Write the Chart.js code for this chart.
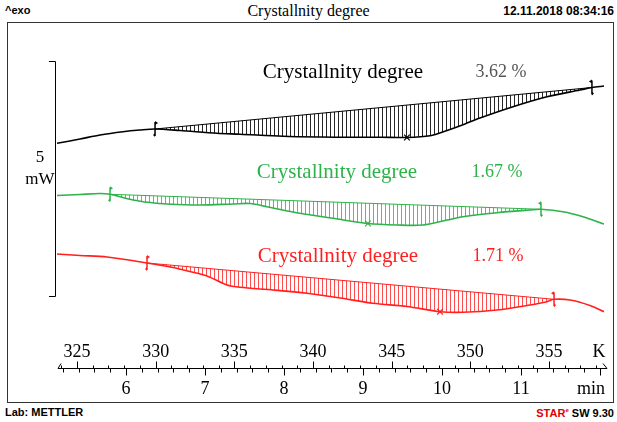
<!DOCTYPE html>
<html>
<head>
<meta charset="utf-8">
<title>Crystallnity degree</title>
<script src="https://cdn.jsdelivr.net/npm/chart.js@4.4.1/dist/chart.umd.min.js"></script>
<style>
body { margin: 0; background: #fff; }
#wrap { position: relative; width: 617px; height: 422px; overflow: hidden; }
#frame { position: absolute; left: 7px; top: 22px; width: 605px; height: 379px; border: 1px solid #333; }
canvas { position: absolute; left: 0; top: 0; }
.t { position: absolute; white-space: nowrap; line-height: 1; }
.sans { font-family: "Liberation Sans", Arial, sans-serif; font-weight: bold; font-size: 11px; }
.serif { font-family: "Liberation Serif", "Times New Roman", serif; font-size: 16px; }
</style>
</head>
<body>
<div id="wrap">
  <div id="frame"></div>
  <div class="t sans" style="left:5px; top:5px;">^exo</div>
  <div class="t serif" style="left:0; width:617px; text-align:center; top:3px;">Crystallnity degree</div>
  <div class="t sans" style="right:3px; top:5px; font-size:12px;">12.11.2018 08:34:16</div>
  <div class="t sans" style="left:5px; top:407px;">Lab: METTLER</div>
  <div class="t sans" style="right:3px; top:407px;"><span style="color:#e00000">STAR</span><sup style="font-size:6px; color:#e00000">e</sup> SW 9.30</div>
  <canvas id="chart" width="617" height="422"></canvas>
</div>
<script>
// curves: temperature (K) and heat flow (mW, offset per curve)
const blackT = [323.73, 325.19, 326.46, 327.92, 329.00, 329.96, 331.55, 333.90, 335.36, 338.09, 340.45, 342.35, 344.26, 345.97, 347.44, 348.52, 349.66, 350.61, 352.71, 354.87, 356.97, 357.73, 358.50];
const blackMW = [3.249, 3.340, 3.426, 3.496, 3.532, 3.553, 3.521, 3.462, 3.443, 3.400, 3.383, 3.377, 3.379, 3.372, 3.409, 3.521, 3.660, 3.787, 4.028, 4.240, 4.383, 4.436, 4.468];

const greenT = [323.73, 325.19, 326.46, 327.10, 328.56, 329.64, 330.72, 332.82, 334.92, 336.00, 337.08, 339.17, 341.27, 343.49, 345.34, 346.99, 348.52, 349.53, 351.70, 353.79, 354.49, 355.89, 357.16, 358.50];
const greenMW = [2.138, 2.160, 2.181, 2.164, 2.043, 1.989, 1.957, 1.936, 1.957, 1.968, 1.900, 1.760, 1.653, 1.543, 1.511, 1.511, 1.617, 1.687, 1.772, 1.830, 1.845, 1.794, 1.687, 1.532];

const redT = [323.73, 325.19, 326.91, 329.45, 331.10, 332.18, 333.26, 334.53, 335.36, 337.46, 339.62, 341.72, 343.81, 345.97, 348.07, 349.53, 351.70, 353.79, 354.87, 355.32, 356.34, 357.61, 358.50];
const redMW = [0.894, 0.862, 0.830, 0.702, 0.606, 0.521, 0.426, 0.234, 0.185, 0.128, 0.057, -0.043, -0.155, -0.223, -0.334, -0.347, -0.298, -0.191, -0.121, -0.070, -0.085, -0.202, -0.334];

// integration limits (baseline ends) and peak marks
const blackBaseT = [329.96, 357.73];
const blackBaseMW = [3.553, 4.436];
const greenBaseT = [327.10, 354.49];
const greenBaseMW = [2.164, 1.845];
const redBaseT = [329.45, 355.32];
const redBaseMW = [0.702, -0.070];

const peakT = [345.97, 343.49, 348.07];
const peakMW = [3.372, 1.543, -0.334];

const resultNames = ['Crystallnity degree', 'Crystallnity degree', 'Crystallnity degree'];
const resultValues = ['3.62 %', '1.67 %', '1.71 %'];

const kTicks = [325, 330, 335, 340, 345, 350, 355];
const minTicks = [6, 7, 8, 9, 10, 11];

const BLACK = '#000000';
const GREEN = '#2db34a';
const RED = '#ff2020';
const SERIF = '"Liberation Serif", "Times New Roman", serif';

function pts(xs, ys) {
    return xs.map((x, i) => ({ x: x, y: ys[i] }));
}

function curveYAt(points, px) {
    for (let i = 1; i < points.length; i++) {
        if (points[i].x >= px) {
            const a = points[i - 1], b = points[i];
            return a.y + (b.y - a.y) * (px - a.x) / (b.x - a.x);
        }
    }
    return points[points.length - 1].y;
}

function flag(ctx, x, y, dir, color) {
    ctx.save();
    ctx.strokeStyle = color;
    ctx.fillStyle = color;
    ctx.lineWidth = 1.5;
    ctx.beginPath();
    ctx.moveTo(x, y - 7);
    ctx.lineTo(x, y + 7);
    ctx.stroke();
    ctx.beginPath();
    ctx.moveTo(x, y - 8);
    ctx.lineTo(x + 3 * dir, y - 6);
    ctx.lineTo(x, y - 4);
    ctx.fill();
    ctx.beginPath();
    ctx.moveTo(x, y + 8);
    ctx.lineTo(x - 2 * dir, y + 6);
    ctx.lineTo(x, y + 4);
    ctx.fill();
    ctx.restore();
}

const groups = [
    { curve: 0, base: 3, color: BLACK, hatch: 'rgba(0,0,0,0.85)', textY: 72, nameX: 343, valX: 501, valColor: '#555555' },
    { curve: 1, base: 4, color: GREEN, hatch: 'rgba(45,179,74,0.8)', textY: 172, nameX: 337, valX: 497, valColor: GREEN },
    { curve: 2, base: 5, color: RED, hatch: 'rgba(255,32,32,0.8)', textY: 256, nameX: 338, valX: 498, valColor: RED }
];

const decor = {
    id: 'decor',
    beforeDatasetsDraw(c) {
        const ctx = c.ctx;
        ctx.save();
        ctx.lineWidth = 1;
        groups.forEach(g => {
            const curve = c.getDatasetMeta(g.curve).data;
            const base = c.getDatasetMeta(g.base).data;
            const x0 = base[0].x, x1 = base[1].x;
            ctx.strokeStyle = g.hatch;
            ctx.beginPath();
            for (let px = x0 + 3; px < x1 - 1; px += 4) {
                const bx = Math.round(px) + 0.5;
                const yb = base[0].y + (base[1].y - base[0].y) * (bx - x0) / (x1 - x0);
                const yc = curveYAt(curve, bx);
                ctx.moveTo(bx, yb);
                ctx.lineTo(bx, yc);
            }
            ctx.stroke();
        });
        ctx.restore();
    },
    afterDatasetsDraw(c) {
        const ctx = c.ctx;
        const xs = c.scales.x, ys = c.scales.y, ts = c.scales.t;

        // integration limit flags
        groups.forEach(g => {
            const base = c.getDatasetMeta(g.base).data;
            flag(ctx, base[0].x, base[0].y, 1, g.color);
            flag(ctx, base[1].x, base[1].y, -1, g.color);
        });

        ctx.save();
        ctx.textAlign = 'center';
        ctx.textBaseline = 'middle';
        groups.forEach((g, i) => {
            ctx.font = '21px ' + SERIF;
            ctx.fillStyle = g.color;
            ctx.fillText(resultNames[i], g.nameX, g.textY);
            ctx.font = '18px ' + SERIF;
            ctx.fillStyle = g.valColor;
            ctx.fillText(resultValues[i], g.valX, g.textY);
        });

        // 5 mW scale bar
        const barX = 55.5;
        const yTop = Math.round(ys.getPixelForValue(5)) + 0.5;
        const yBot = Math.round(ys.getPixelForValue(0)) + 0.5;
        ctx.strokeStyle = '#000';
        ctx.lineWidth = 1;
        ctx.beginPath();
        ctx.moveTo(49, yTop);
        ctx.lineTo(barX, yTop);
        ctx.lineTo(barX, yBot);
        ctx.lineTo(49, yBot);
        ctx.stroke();
        ctx.fillStyle = '#000';
        ctx.font = '17px ' + SERIF;
        ctx.fillText('5', 40, 158);
        ctx.fillText('mW', 40, 180);

        // temperature / time axis
        const ay = 368.5;
        ctx.beginPath();
        ctx.moveTo(58, ay);
        ctx.lineTo(607, ay);
        ctx.moveTo(58, ay);
        ctx.lineTo(61, ay - 5);
        ctx.moveTo(603, ay - 5);
        ctx.lineTo(607, ay);
        for (let k = 324; k <= 358; k++) {
            const px = Math.round(xs.getPixelForValue(k)) + 0.5;
            const len = k % 5 === 0 ? 7 : 3;
            ctx.moveTo(px, ay - len);
            ctx.lineTo(px, ay);
        }
        for (let s = 26; s <= 60; s++) {
            const px = Math.round(ts.getPixelForValue(s / 5)) + 0.5;
            const len = s % 5 === 0 ? 7 : 4;
            ctx.moveTo(px, ay);
            ctx.lineTo(px, ay + len);
        }
        ctx.stroke();

        ctx.font = '18px ' + SERIF;
        kTicks.forEach(k => ctx.fillText(String(k), xs.getPixelForValue(k), 352));
        ctx.fillText('K', 599, 352);
        minTicks.forEach(m => ctx.fillText(String(m), ts.getPixelForValue(m), 389));
        ctx.fillText('min', 591, 389);
        ctx.restore();
    }
};

function lineSet(data, color, width, tension) {
    return {
        data: data,
        borderColor: color,
        borderWidth: width,
        pointRadius: 0,
        tension: tension,
        fill: false
    };
}

function peakSet(i, color) {
    return {
        data: [{ x: peakT[i], y: peakMW[i] }],
        showLine: false,
        pointStyle: 'crossRot',
        pointRadius: 4,
        borderColor: color,
        borderWidth: 1.2
    };
}

function createChart() {
    const ctx = document.getElementById('chart').getContext('2d');
    new Chart(ctx, {
        type: 'line',
        data: {
            datasets: [
                lineSet(pts(blackT, blackMW), BLACK, 1.6, 0.3),
                lineSet(pts(greenT, greenMW), GREEN, 1.6, 0.3),
                lineSet(pts(redT, redMW), RED, 1.6, 0.3),
                lineSet(pts(blackBaseT, blackBaseMW), BLACK, 1, 0),
                lineSet(pts(greenBaseT, greenBaseMW), GREEN, 1, 0),
                lineSet(pts(redBaseT, redBaseMW), RED, 1, 0),
                peakSet(0, BLACK),
                peakSet(1, GREEN),
                peakSet(2, RED)
            ]
        },
        options: {
            responsive: false,
            animation: false,
            devicePixelRatio: 1,
            layout: { padding: { left: 57, right: 13, top: 40, bottom: 92 } },
            plugins: { legend: { display: false }, tooltip: { enabled: false } },
            scales: {
                x: { type: 'linear', min: 323.729, max: 358.496, display: false },
                t: { type: 'linear', axis: 'x', min: 5.1266, max: 12.0506, display: false },
                y: { type: 'linear', min: -0.7234, max: 5.4468, display: false }
            }
        },
        plugins: [decor]
    });
}

document.addEventListener('DOMContentLoaded', () => {
    // canvas text needs the serif face loaded first
    Promise.all([
        document.fonts.load('21px "Liberation Serif"'),
        document.fonts.load('18px "Liberation Serif"')
    ]).then(createChart, createChart);
});
</script>
</body>
</html>
